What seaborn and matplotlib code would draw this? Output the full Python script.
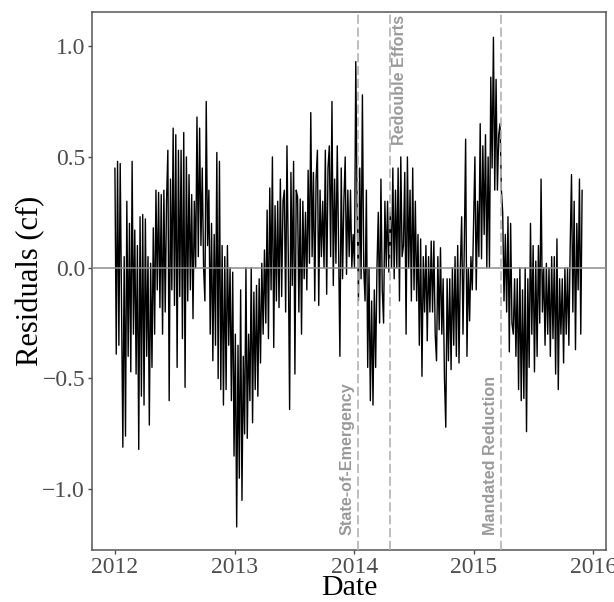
import pandas as pd
import matplotlib
matplotlib.use("Agg")
import matplotlib.pyplot as plt
import matplotlib.dates as mdates
import seaborn as sns

# =============================
# 1. DADOS (residuos a cada ~4 dias)
# =============================
r2012 = [0.45, -0.39, 0.48, -0.35, 0.47, -0.15, -0.81, 0.05, -0.76, 0.30,
         -0.40, 0.20, -0.47, 0.48, -0.30, 0.17, -0.48, 0.10, -0.82, 0.23,
         -0.58, 0.24, -0.62, 0.22, -0.40, 0.05, -0.71, 0.02, -0.45, 0.18,
         -0.30, 0.35, -0.10, 0.34, -0.18, 0.33, -0.30, 0.35, -0.20, 0.30,
         0.53, -0.60, 0.40, -0.10, 0.63, -0.17, 0.60, -0.45, 0.53, -0.13,
         0.53, -0.32, 0.61, -0.54, 0.50, -0.15, 0.42, -0.10, 0.33, -0.23,
         0.30, 0.00, 0.68, 0.05, 0.63, 0.10, 0.45, 0.00, -0.15, 0.75,
         0.10, 0.35, -0.30, 0.20, -0.42, 0.15, -0.35, 0.52, -0.50, 0.48,
         -0.55, 0.10, -0.62, 0.05, -0.55, 0.10, -0.35, 0.00, -0.60, -0.02,
         -0.85, -0.30]

r2013 = [-1.17, -0.35, -0.95, -0.10, -1.05, -0.40, -0.75, 0.00,
         -0.77, -0.30, -0.60, 0.00, -0.70, -0.11,
         -0.55, -0.08, -0.58, -0.05, -0.43, 0.02, -0.30, 0.08, -0.25, 0.26,
         -0.32, 0.36, -0.10, 0.50, -0.36, 0.28, -0.15, 0.30, -0.18, 0.40,
         -0.13, 0.30, 0.35, -0.20, 0.55, 0.05, -0.64, 0.43, -0.08, 0.48,
         -0.48, 0.35, 0.32, -0.20, 0.31, -0.30, 0.30, -0.05, 0.25, -0.10,
         0.44, 0.02, 0.70, 0.05, 0.43, -0.15, 0.40, 0.53, -0.17, 0.35,
         0.05, 0.30, 0.00, 0.53, -0.12, 0.45, 0.55, 0.05, 0.75, -0.08,
         0.40, 0.02, 0.55, 0.10, -0.40, 0.45, -0.05, 0.30, 0.50, -0.03,
         0.35, 0.05, 0.35, 0.00, 0.15, 0.00, 0.93]

r2014 = [0.28, -0.15, 0.45, -0.05, 0.78, 0.00, -0.15, 0.35, -0.45, 0.00,
         -0.60, -0.15, -0.62, -0.10, -0.45, 0.00, 0.25, -0.25, 0.40, -0.10,
         -0.25, 0.30, 0.00, 0.30, -0.02, 0.25, 0.00, 0.45, -0.05, 0.35,
         0.00, 0.45, -0.15, 0.50, 0.05, 0.10, 0.43, -0.30, 0.50, 0.00,
         0.35, -0.15, 0.45, -0.10, 0.30, -0.15, 0.15, -0.35, 0.13, -0.49,
         0.05, -0.20, 0.10, -0.33, 0.05, -0.20, 0.12, -0.20, 0.12, -0.30,
         -0.42, 0.05, -0.28, 0.09, -0.30, -0.05, -0.50, -0.72, -0.05, -0.42,
         -0.05, -0.46, 0.00, -0.35, 0.05, -0.40, 0.10, -0.43, 0.00, 0.23,
         -0.30, 0.10, 0.58, -0.40, 0.00, -0.24, 0.05, -0.10, 0.20, 0.50,
         -0.10]

r2015 = [0.30, 0.05, 0.65,
         0.04, 0.55, 0.15, 0.60, 0.00, 0.50, 0.00, 0.86, 0.45, 1.04,
         0.35, 0.85, 0.35, 0.60, 0.65, 0.35, 0.25, -0.15, 0.15, -0.20,
         0.23, -0.38, 0.20, -0.25, -0.30, -0.05, -0.40, -0.05, -0.55, 0.00,
         -0.60, -0.10, -0.59, 0.00, -0.74, -0.05, -0.45, 0.20, -0.30, 0.10,
         -0.47, 0.03, -0.40, 0.10, -0.25, 0.40, -0.20, 0.00, -0.35, 0.02,
         -0.30, 0.00, -0.40, 0.05, -0.32, 0.05, -0.48, 0.13, -0.55, -0.05,
         -0.30, -0.05, -0.43, 0.00, -0.30, 0.00, -0.35, 0.10, 0.42, -0.20,
         0.30, -0.37, 0.20, -0.10, 0.40, -0.30, 0.35]

eventos = ["State-of-Emergency", "Redouble Efforts", "Mandated Reduction"]
datas_eventos = ["2014-01-12", "2014-04-20", "2015-03-26"]

y_ticks = [-1.0, -0.5, 0.0, 0.5, 1.0]
y_labels = ["\u22121.0", "\u22120.5", "0.0", "0.5", "1.0"]

res = r2012 + r2013 + r2014 + r2015
df = pd.DataFrame({
    "date": pd.date_range("2012-01-01", "2015-11-28", periods=len(res)),
    "resid": res,
})

# =============================
# 2. GRAFICO
# =============================
sns.set_theme(style="white")
plt.rcParams["font.family"] = ["Liberation Serif", "DejaVu Serif"]

fig = plt.figure(figsize=(6.14, 6.02), dpi=100)
ax = fig.add_axes([92 / 614, 52 / 602, 514 / 614, 538 / 602])

sns.lineplot(data=df, x="date", y="resid", color="black", linewidth=1.0, ax=ax)
ax.axhline(0, color="#8c8c8c", linewidth=1.1, zorder=3)

cinza_txt = "#9a9a9a"
for i, (nome, d) in enumerate(zip(eventos, datas_eventos)):
    t = pd.Timestamp(d)
    ax.axvline(t, color="#b3b3b3", linestyle=(0, (5.5, 2.2)), linewidth=1.2, zorder=4)
    if i == 1:
        ax.annotate(nome, (t, 1.14), xytext=(1.5, 0), textcoords="offset points",
                    rotation=90, ha="left", va="top", color=cinza_txt,
                    fontsize=11.6, fontweight="bold", family="Liberation Sans")
    else:
        ax.annotate(nome, (t, -1.205), xytext=(-2.3, 0), textcoords="offset points",
                    rotation=90, ha="right", va="bottom", color=cinza_txt,
                    fontsize=11.6, fontweight="bold", family="Liberation Sans")

ax.set_xlim(pd.Timestamp("2011-10-23"), pd.Timestamp("2016-02-09"))
ax.set_ylim(-1.274, 1.154)
ax.xaxis.set_major_locator(mdates.YearLocator())
ax.xaxis.set_major_formatter(mdates.DateFormatter("%Y"))
ax.set_yticks(y_ticks)
ax.set_yticklabels(y_labels)

ax.tick_params(axis="both", which="major", length=3, width=1, color="#4d4d4d",
               labelcolor="#4d4d4d", labelsize=17, pad=2, bottom=True, left=True)
for s in ax.spines.values():
    s.set_color("#555555")
    s.set_linewidth(1.1)

ax.set_xlabel("Date", fontsize=21.5, color="black", labelpad=-2)
ax.set_ylabel("Residuals (cf)", fontsize=22, color="black", labelpad=-2)

plt.savefig("out.png", dpi=100)
plt.close()
